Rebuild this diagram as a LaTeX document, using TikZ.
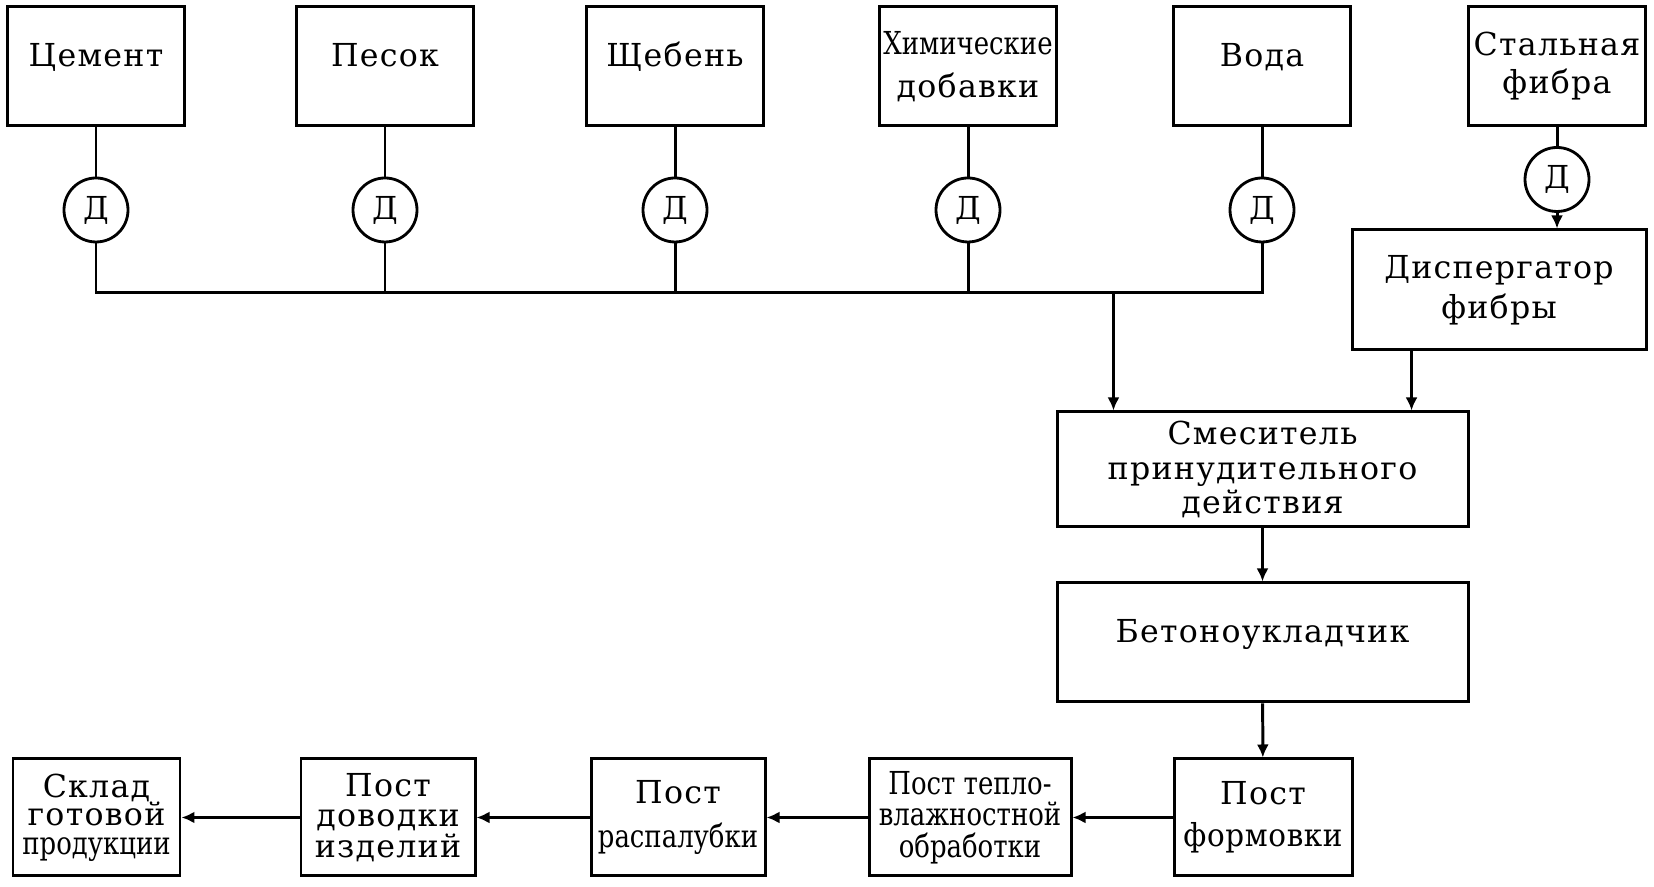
\documentclass[tikz,border=0pt]{standalone}
\usepackage{fontspec}
\newfontfamily\schemefont{DejaVu Serif}[LetterSpace=4]
\newfontfamily\schemenarrow{DejaVu Serif}[FakeStretch=0.82]
\newfontfamily\schemesnug{DejaVu Serif}[FakeStretch=0.93, LetterSpace=2]
\usetikzlibrary{arrows.meta, calc}

\newcommand{\schemetext}{\schemefont\fontsize{9}{9.8}\selectfont}
\newcommand{\narrow}[1]{{\schemenarrow #1}}
\newcommand{\snug}[1]{{\schemesnug #1}}

\tikzset{
	box/.style={draw, line width=0.85pt, minimum width=1.77cm, minimum height=1.19cm,
		inner xsep=0pt, inner ysep=1pt, align=center, font=\schemetext},
	dos/.style={draw, circle, line width=0.8pt, minimum size=0.64cm, inner sep=0pt, font=\schemetext},
	uptext/.style={text height=0.19cm, text depth=0.19cm},
	link/.style={line width=0.85pt},
	arr/.style={line width=0.85pt, -{Latex[length=1.3mm, width=1.2mm]}}
}

\begin{document}
\begin{tikzpicture}
	\useasboundingbox (0,0) rectangle (16.54,8.87);

	% raw materials
	\node[box, uptext] (cem) at (0.96,8.205) {Цемент};
	\node[box, uptext] (pes) at (3.85,8.205) {Песок};
	\node[box, uptext] (shch) at (6.75,8.205) {Щебень};
	\node[box] (khim) at (9.68,8.205) {\narrow{Химические}\\[2.5pt]добавки};
	\node[box, uptext] (voda) at (12.62,8.205) {Вода};
	\node[box] (stal) at (15.57,8.205) {Стальная\\[1pt]фибра};

	% dosing units
	\node[dos] (dcem) at (0.96,6.77) {Д};
	\node[dos] (dpes) at (3.85,6.77) {Д};
	\node[dos] (dshch) at (6.75,6.77) {Д};
	\node[dos] (dkhim) at (9.68,6.77) {Д};
	\node[dos] (dvoda) at (12.62,6.77) {Д};
	\node[dos] (dstal) at (15.57,7.075) {Д};

	\node[box, minimum width=2.94cm, minimum height=1.20cm] (disp) at (14.99,5.97) {Диспергатор\\[1.6pt]фибры};
	\node[box, minimum width=4.11cm, minimum height=1.15cm] (mix) at (12.625,4.175) {Смеситель\\принудительного\\действия};
	\node[box, uptext, minimum width=4.11cm] (bet) at (12.625,2.445) {Бетоноукладчик};

	% production line
	\node[box, minimum width=1.67cm, minimum height=1.17cm] (sklad) at (0.965,0.695) {Склад\\[-1.7pt]готовой\\[-1.7pt]\narrow{продукции}};
	\node[box, minimum width=1.74cm, minimum height=1.17cm] (dov) at (3.88,0.695) {Пост\\[-1.2pt]доводки\\[-1.2pt]изделий};
	\node[box, minimum width=1.74cm, minimum height=1.17cm] (rasp) at (6.78,0.695) {Пост\\[2.6pt]\narrow{распалубки}};
	\node[box, minimum width=2.02cm, minimum height=1.17cm] (teplo) at (9.70,0.695) {\narrow{Пост тепло-}\\[-0.8pt]\narrow{влажностной}\\[-0.8pt]\narrow{обработки}};
	\node[box, minimum width=1.78cm, minimum height=1.17cm] (form) at (12.63,0.695) {Пост\\[2.1pt]\snug{формовки}};

	\coordinate (bus) at (0,5.94);
	\coordinate (mixL) at ($ (mix.north west)!0.14!(mix.north east) $);
	\coordinate (mixR) at ($ (mix.north west)!0.86!(mix.north east) $);

	\foreach \s in {cem,pes,shch,khim,voda,stal}
		\draw[link] (\s) -- (d\s);
	\draw[link] (dcem) -- (dcem |- bus) -- (dvoda |- bus) -- (dvoda);
	\foreach \s in {pes,shch,khim}
		\draw[link] (d\s) -- (d\s |- bus);

	\draw[arr] (mixL |- bus) -- (mixL);
	\draw[arr] (dstal) -- (dstal |- disp.north);
	\draw[arr] (mixR |- disp.south) -- (mixR);
	\draw[arr] (mix) -- (bet);
	\draw[arr] (bet) -- (form);

	\draw[arr] (form) -- (teplo);
	\draw[arr] (teplo) -- (rasp);
	\draw[arr] (rasp) -- (dov);
	\draw[arr] (dov) -- (sklad);

\end{tikzpicture}
\end{document}
